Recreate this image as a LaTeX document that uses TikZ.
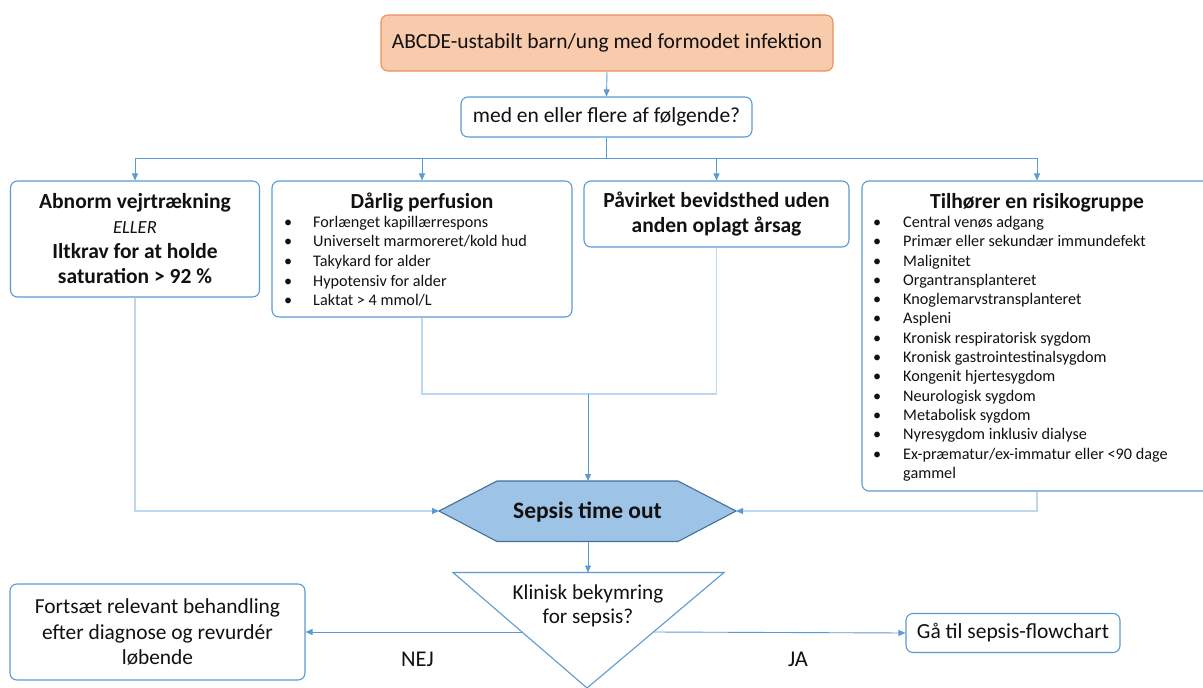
\documentclass[tikz,border=0pt]{standalone}
\usepackage{fontspec}
\setmainfont{Carlito}
\usetikzlibrary{arrows.meta}
\definecolor{bl}{HTML}{5B9BD5}
\definecolor{pl}{HTML}{BDD7EE}
\definecolor{orfill}{HTML}{F8CBAD}
\definecolor{orline}{HTML}{EE8F5C}
\definecolor{hexfill}{HTML}{9DC3E6}
\definecolor{hexline}{HTML}{41719C}
\definecolor{ink}{HTML}{111111}
\newcommand{\fsz}[1]{\fontsize{#1}{#1}\selectfont}
\tikzset{
  box/.style={draw=bl, line width=1.1pt, fill=white, rounded corners=7pt, inner sep=0pt, text=ink, align=center},
  conn/.style={draw=bl, line width=0.9pt},
  pale/.style={draw=pl, line width=1.2pt},
  arr/.style={-{Triangle[length=7pt,width=6pt,color=bl]}},
  itm/.style={anchor=mid west, inner sep=0pt, text=ink, font=\fsz{16.2}},
  ttl/.style={inner sep=0pt, text=ink, font=\fsz{21.5}\bfseries},
  lbl/.style={inner sep=0pt, text=ink, font=\fsz{22.5}},
}
\begin{document}
\begin{tikzpicture}[x=1pt,y={(0pt,-1pt)}]
\clip (0,0) rectangle (1203,688);
\fill[white] (0,0) rectangle (1203,688);

% top boxes
\node[box, fill=orfill, draw=orline, minimum width=452pt, minimum height=56pt, font=\fsz{21.5}] (top) at (607,43) {ABCDE-ustabilt barn/ung med formodet infektion};
\node[box, minimum width=291pt, minimum height=40pt, font=\fsz{21.5}] (q) at (606.5,117) {med en eller flere af følgende?};

% criteria boxes
\node[box, minimum width=249pt, minimum height=116pt, font=\fontsize{21.5}{25}\selectfont\bfseries] (b1) at (135,239)
  {Abnorm vejrtrækning\\{\mdseries\itshape\fsz{18.5}ELLER}\\Iltkrav for at holde\\saturation > 92 \%};
\node[box, minimum width=300pt, minimum height=136pt] (b2) at (422,249) {};
\node[box, minimum width=265pt, minimum height=66pt, font=\fontsize{21.5}{25.3}\selectfont\bfseries] (b3) at (716.5,214)
  {Påvirket bevidsthed uden\\anden oplagt årsag};
\node[box, minimum width=350pt, minimum height=310pt] (b4) at (1037,336) {};

% texts of box 2
\node[ttl] (t2) at (422,202.5) {Dårlig perfusion};
\foreach \t [count=\i] in {Forlænget kapillærrespons, Universelt marmoreret/kold hud, Takykard for alder, Hypotensiv for alder, Laktat > 4 mmol/L}{
  \node[itm] (b2d\i) at (284,{205.3+\i*19.6}) {•};
  \node[itm] (b2t\i) at (313,{205.3+\i*19.6}) {\t};
}
% texts of box 4
\node[ttl] (t4) at (1037,202.5) {Tilhører en risikogruppe};
\foreach \t [count=\i] in {Central venøs adgang, Primær eller sekundær immundefekt, Malignitet, Organtransplanteret, Knoglemarvstransplanteret, Aspleni, Kronisk respiratorisk sygdom, Kronisk gastrointestinalsygdom, Kongenit hjertesygdom, Neurologisk sygdom, Metabolisk sygdom, Nyresygdom inklusiv dialyse, Ex-præmatur/ex-immatur eller <90 dage}{
  \node[itm] (b4d\i) at (873,{205.8+\i*19.3}) {•};
  \node[itm] (b4t\i) at (903,{205.8+\i*19.3}) {\t};
}
\node[itm] (b4t14) at (903,476) {gammel};

% hexagon
\coordinate (hexL) at (439,511);
\coordinate (hexR) at (736,511);
\coordinate (hexT) at (588,481);
\coordinate (hexB) at (588,541.5);
\draw[fill=hexfill, draw=hexline, line width=1.1pt] (hexL) -- (497,481) -- (678,481) -- (hexR) -- (678,541.5) -- (497,541.5) -- cycle;
\node[inner sep=0pt, text=ink, font=\fsz{23.5}\bfseries] (hex) at (587.5,512) {Sepsis time out};

% triangle
\coordinate (triT) at (588,572.5);
\coordinate (triL) at (523,632);
\coordinate (triR) at (654,632);
\draw[fill=white, draw=bl, line width=1.1pt] (453,572.5) -- (724,572.5) -- (587,688) -- cycle;
\node[inner sep=0pt, text=ink, align=center, font=\fontsize{21.2}{24.5}\selectfont] (tri) at (588,606) {Klinisk bekymring\\for sepsis?};

% outcome boxes
\node[box, minimum width=295pt, minimum height=96pt, font=\fontsize{21.4}{25.5}\selectfont] (no) at (157.5,632)
  {Fortsæt relevant behandling\\efter diagnose og revurdér\\løbende};
\node[box, minimum width=214pt, minimum height=39pt, font=\fsz{21.5}] (yes) at (1013,633) {Gå til sepsis-flowchart};
\node[lbl] (nej) at (417.5,659) {NEJ};
\node[lbl] (ja) at (798,659) {JA};

% connectors
\coordinate (j) at (606.5,158);
\coordinate (m) at (588,394);
\draw[conn, arr] (top.south) -- (q.north);
\draw[conn] (q.south) -- (j);
\draw[conn] (b1.north |- j) -- (b4.north |- j);
\foreach \b in {b1,b2,b3,b4}{\draw[conn, arr] (\b.north |- j) -- (\b.north);}
\draw[pale, arr] (b1.south) -- (b1.south |- hexL) -- (hexL);
\draw[pale, arr] (b4.south) -- (b4.south |- hexR) -- (hexR);
\draw[pale] (b2.south) -- (b2.south |- m) -- (b3.south |- m) -- (b3.south);
\draw[conn, arr] (m) -- (hexT);
\draw[conn, arr] (hexB) -- (triT);
\draw[conn, arr] (triL) -- (no.east);
\draw[conn, arr] (triR) -- (yes.west);
\end{tikzpicture}
\end{document}
